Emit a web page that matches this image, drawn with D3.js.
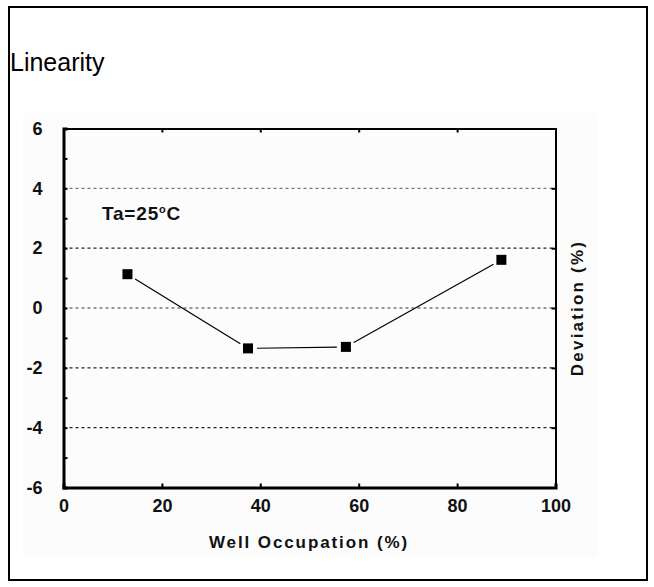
<!DOCTYPE html>
<html><head><meta charset="utf-8">
<script src="https://cdn.jsdelivr.net/npm/d3@7"></script>
<style>body{margin:0;background:#fff;}svg{display:block;}</style>
</head><body>
<svg id="c" width="654" height="587"></svg>
<script>
const occupation = [13.0, 37.5, 57.4, 89.0];
const deviation = [1.13, -1.35, -1.30, 1.61];
const xTicks = [0, 20, 40, 60, 80, 100];
const yTicks = [-6, -4, -2, 0, 2, 4, 6];
const yMinor = [-5, -3, -1, 1, 3, 5];
const gridVals = [-4, -2, 0, 2, 4];
const title = "Linearity";
const xLabel = "Well Occupation (%)";
const yLabel = "Deviation (%)";

const svg = d3.select("#c");
const L = 63.5, R = 555.5, T = 128.5, B = 487.5;
const x = d3.scaleLinear().domain([0, 100]).range([L, R]);
const y = d3.scaleLinear().domain([-6, 6]).range([B, T]);
const font = "Arial, 'Liberation Sans', sans-serif";

// outer border
svg.append("rect").attr("x", 9).attr("y", 7).attr("width", 638).attr("height", 573)
  .attr("fill", "#fff").attr("stroke", "#000").attr("stroke-width", 2);
// faint image background
svg.append("rect").attr("x", 23).attr("y", 113).attr("width", 574).attr("height", 444).attr("fill", "#fcfcfc");

svg.append("text").attr("x", 10).attr("y", 71).attr("font-family", font)
  .attr("font-size", 25).attr("fill", "#000").text(title);

// grid
svg.append("g").selectAll("line").data(gridVals).join("line")
  .attr("x1", L).attr("x2", R).attr("y1", d => y(d)).attr("y2", d => y(d))
  .attr("stroke", d => (d === 4 || d === 0) ? "#777" : "#222").attr("stroke-width", 1.3)
  .attr("stroke-dasharray", "3,3");

const fmt = d => String(d);
// axes
const gx = svg.append("g").attr("transform", `translate(0,${B})`)
  .call(d3.axisBottom(x).tickValues(xTicks).tickSize(-4).tickPadding(12).tickFormat(fmt));
const gxt = svg.append("g").attr("transform", `translate(0,${T})`)
  .call(d3.axisTop(x).tickValues(xTicks).tickSize(-4).tickFormat(""));
const gy = svg.append("g").attr("transform", `translate(${L},0)`)
  .call(d3.axisLeft(y).tickValues(yTicks).tickSize(-4).tickPadding(21).tickFormat(fmt));
const gym = svg.append("g").attr("transform", `translate(${L},0)`)
  .call(d3.axisLeft(y).tickValues(yMinor).tickSize(-4).tickFormat(""));
const gyr = svg.append("g").attr("transform", `translate(${R},0)`)
  .call(d3.axisRight(y).tickValues(yTicks).tickSize(-4).tickFormat(""));
[gx, gxt, gy, gym, gyr].forEach(g => {
  g.selectAll(".tick line").attr("stroke", "#000").attr("stroke-width", 2);
  g.selectAll("text").attr("font-family", font).attr("font-size", 18).attr("font-weight", "bold").attr("fill", "#111");
});
gx.select(".domain").attr("stroke-width", 3);
gy.select(".domain").attr("stroke-width", 3);
gxt.select(".domain").attr("stroke-width", 2);
gyr.select(".domain").attr("stroke-width", 2);
gym.select(".domain").remove();
gx.selectAll(".tick").filter(d => d === 0 || d === 100).select("line").remove();
gxt.selectAll(".tick").filter(d => d === 0 || d === 100).select("line").remove();
gy.selectAll(".tick").filter(d => d === 6 || d === -6).select("line").remove();
gyr.selectAll(".tick").filter(d => d === 6 || d === -6).select("line").remove();

// axis titles
svg.append("text").attr("x", 309).attr("y", 548).attr("text-anchor", "middle")
  .attr("font-family", font).attr("font-size", 17).attr("font-weight", "bold")
  .attr("letter-spacing", 1.9).attr("fill", "#111").text(xLabel);
svg.append("text").attr("transform", `translate(583,${y(0)}) rotate(-90)`).attr("text-anchor", "middle")
  .attr("font-family", font).attr("font-size", 17).attr("font-weight", "bold")
  .attr("letter-spacing", 2.2).attr("fill", "#111").text(yLabel);

// annotation
const ann = svg.append("text").attr("x", 102).attr("y", 220).attr("font-family", font)
  .attr("font-size", 19).attr("font-weight", "bold").attr("letter-spacing", 0.8).attr("fill", "#111");
ann.append("tspan").text("Ta=25");
ann.append("tspan").attr("dy", -7).attr("font-size", 11).text("o");
ann.append("tspan").attr("dy", 7).text("C");

// line segments with gaps near markers
const pts = occupation.map((o, i) => [x(o), y(deviation[i])]);
const gap = 9;
const segs = [];
for (let i = 0; i < pts.length - 1; i++) {
  const [x1, y1] = pts[i], [x2, y2] = pts[i + 1];
  const len = Math.hypot(x2 - x1, y2 - y1);
  const ux = (x2 - x1) / len, uy = (y2 - y1) / len;
  segs.push([x1 + ux * gap, y1 + uy * gap, x2 - ux * gap, y2 - uy * gap]);
}
svg.append("g").selectAll("line").data(segs).join("line")
  .attr("x1", d => d[0]).attr("y1", d => d[1]).attr("x2", d => d[2]).attr("y2", d => d[3])
  .attr("stroke", "#000").attr("stroke-width", 1.2);

svg.append("g").selectAll("rect").data(occupation).join("rect")
  .attr("x", (d) => x(d) - 5).attr("y", (d, i) => y(deviation[i]) - 5)
  .attr("width", 10).attr("height", 10).attr("fill", "#000");
</script>
</body></html>
